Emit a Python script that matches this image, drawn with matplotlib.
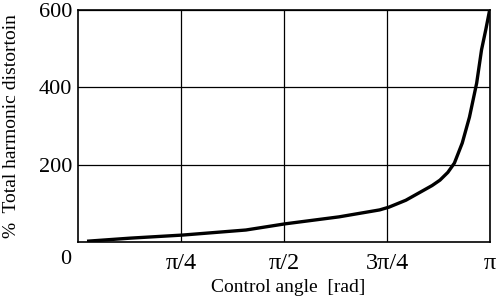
import numpy as np
import matplotlib
matplotlib.use("Agg")
import matplotlib.pyplot as plt

angle = [0.069, 0.40, 0.80, 1.28, 1.58, 1.99, 2.30, 2.37, 2.50, 2.60, 2.70, 2.76, 2.82, 2.87, 2.93, 2.985, 3.04, 3.077, 3.11, 3.139]
thd = [2, 10, 18, 31, 47, 65, 83, 90, 108, 127, 146, 160, 180, 204, 256, 323, 411, 497, 550, 600]
xticks = [np.pi/4, np.pi/2, 3*np.pi/4, np.pi]
xticklabels = ["π/4", "π/2", "3π/4", "π"]
yticks = [200, 400, 600]
yticklabels = ["200", "400", "600"]

plt.rcParams['font.family'] = ['Liberation Serif', 'DejaVu Serif']
fig = plt.figure(figsize=(5.02, 2.98), dpi=100)
ax = fig.add_axes([78/502, 1-242/298, 412/502, 232/298])
ax.plot(angle, thd, color='black', lw=2.4, solid_capstyle='butt')
ax.set_xlim(0, np.pi)
ax.set_ylim(0, 600)
ax.set_xticks(xticks)
ax.set_xticklabels(xticklabels, fontsize=17.5)
ax.set_yticks(yticks)
ax.set_yticklabels(yticklabels, fontsize=16)
ax.tick_params(axis='x', length=0, pad=8)
ax.tick_params(axis='y', length=0, pad=4)
ax.grid(True, color='black', lw=0.9)
for s in ax.spines.values():
    s.set_color('black')
    s.set_linewidth(1.2)
fig.text(66/502, 1-260/298, "0", fontsize=16, ha='center', va='center')
fig.text(288/502, 1-287/298, "Control angle  [rad]", fontsize=14, ha='center', va='center')
fig.text(12/502, 1-126/298, "%  Total harmonic distortoin", fontsize=14, rotation=90, ha='center', va='center')
fig.savefig("out.png", dpi=100)
